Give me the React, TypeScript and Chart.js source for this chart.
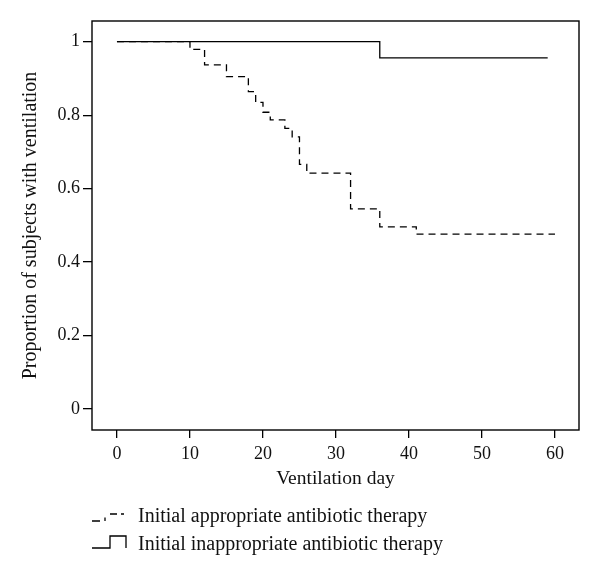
import React, { useEffect, useRef } from "react";
import { Chart, registerables } from "chart.js";

Chart.register(...registerables);

// Kaplan-Meier style step data
const appropriateDays = [0, 10, 12, 15, 18, 19, 20, 21, 23, 24, 25, 26, 32, 36, 41, 60];
const appropriateSurv = [1, 0.979, 0.937, 0.905, 0.864, 0.835, 0.808, 0.787, 0.764, 0.741, 0.666, 0.642, 0.545, 0.496, 0.476, 0.476];
const inappropriateDays = [0, 36, 59];
const inappropriateSurv = [1, 0.956, 0.956];

const xTicks = [0, 10, 20, 30, 40, 50, 60];
const yTicks = [0, 0.2, 0.4, 0.6, 0.8, 1];

const xTitle = "Ventilation day";
const yTitle = "Proportion of subjects with ventilation";
const legendLabels = [
  "Initial appropriate antibiotic therapy",
  "Initial inappropriate antibiotic therapy",
];

const FONT = "'Liberation Serif', 'Times New Roman', serif";

const frameAndLegend = {
  id: "frameAndLegend",
  afterDraw(chart: any) {
    const ctx = chart.ctx as CanvasRenderingContext2D;
    const { left, top, right, bottom } = chart.chartArea;
    ctx.save();
    // full box
    ctx.strokeStyle = "#000";
    ctx.lineWidth = 1.4;
    ctx.setLineDash([]);
    ctx.strokeRect(left, top, right - left, bottom - top);

    // legend
    const y1 = bottom + 86;
    const y2 = bottom + 114;
    ctx.lineWidth = 1.3;
    ctx.beginPath();
    // dashed step symbol
    ctx.moveTo(left, y1 + 5);
    ctx.lineTo(left + 8, y1 + 5);
    ctx.moveTo(left + 13, y1 + 1.5);
    ctx.lineTo(left + 13, y1 + 5);
    ctx.moveTo(left + 18, y1 - 2);
    ctx.lineTo(left + 25, y1 - 2);
    ctx.moveTo(left + 29, y1 - 2);
    ctx.lineTo(left + 32, y1 - 2);
    // solid step symbol
    ctx.moveTo(left, y2 + 4);
    ctx.lineTo(left + 18, y2 + 4);
    ctx.lineTo(left + 18, y2 - 8);
    ctx.lineTo(left + 34, y2 - 8);
    ctx.lineTo(left + 34, y2 + 4);
    ctx.stroke();

    ctx.fillStyle = "#111";
    ctx.font = `20px ${FONT}`;
    ctx.textAlign = "left";
    ctx.textBaseline = "middle";
    ctx.fillText(legendLabels[0], left + 46, y1 + 1);
    ctx.fillText(legendLabels[1], left + 46, y2 + 1);
    ctx.restore();
  },
};

export default function App() {
  const ref = useRef<HTMLCanvasElement | null>(null);

  useEffect(() => {
    if (!ref.current) return;
    const chart = new Chart(ref.current, {
      type: "line",
      data: {
        datasets: [
          {
            label: legendLabels[0],
            data: appropriateDays.map((d, i) => ({ x: d, y: appropriateSurv[i] })),
            borderColor: "#000",
            borderWidth: 1.3,
            borderDash: [7, 5],
            stepped: "before",
            pointRadius: 0,
            fill: false,
            order: 1,
          },
          {
            label: legendLabels[1],
            data: inappropriateDays.map((d, i) => ({ x: d, y: inappropriateSurv[i] })),
            borderColor: "#000",
            borderWidth: 1.3,
            stepped: "before",
            pointRadius: 0,
            fill: false,
            order: 0,
          },
        ],
      },
      plugins: [frameAndLegend],
      options: {
        responsive: false,
        animation: false,
        layout: { padding: { top: 21, right: 21, left: 0, bottom: 83 } },
        plugins: {
          legend: { display: false },
          tooltip: { enabled: false },
        },
        scales: {
          x: {
            type: "linear",
            min: -3.42,
            max: 63.29,
            afterBuildTicks: (scale: any) => {
              scale.ticks = xTicks.map((v) => ({ value: v }));
            },
            afterFit: (scale: any) => {
              scale.height = 61;
            },
            border: { display: false },
            grid: {
              drawOnChartArea: false,
              drawTicks: true,
              tickLength: 8,
              color: "#000",
              lineWidth: 1.3,
            },
            ticks: {
              color: "#111",
              padding: 5,
              maxRotation: 0,
              font: { family: FONT, size: 18 },
              callback: (v: any) => String(v),
            },
            title: {
              display: true,
              text: xTitle,
              color: "#111",
              font: { family: FONT, size: 19.5 },
              padding: { top: 0, bottom: 0 },
            },
          },
          y: {
            type: "linear",
            min: -0.0572,
            max: 1.0564,
            afterBuildTicks: (scale: any) => {
              scale.ticks = yTicks.map((v) => ({ value: v }));
            },
            afterFit: (scale: any) => {
              scale.width = 92;
            },
            border: { display: false },
            grid: {
              drawOnChartArea: false,
              drawTicks: true,
              tickLength: 9,
              color: "#000",
              lineWidth: 1.3,
            },
            ticks: {
              color: "#111",
              padding: 3,
              font: { family: FONT, size: 18 },
              callback: (v: any) => String(v),
            },
            title: {
              display: true,
              text: yTitle,
              color: "#111",
              font: { family: FONT, size: 20 },
              padding: { top: 19, bottom: 0 },
            },
          },
        },
      },
    });
    return () => chart.destroy();
  }, []);

  return (
    <div style={{ position: "absolute", left: 0, top: 0, width: 600, height: 574, background: "#fff" }}>
      <canvas ref={ref} width={600} height={574} style={{ width: 600, height: 574, display: "block" }} />
    </div>
  );
}
